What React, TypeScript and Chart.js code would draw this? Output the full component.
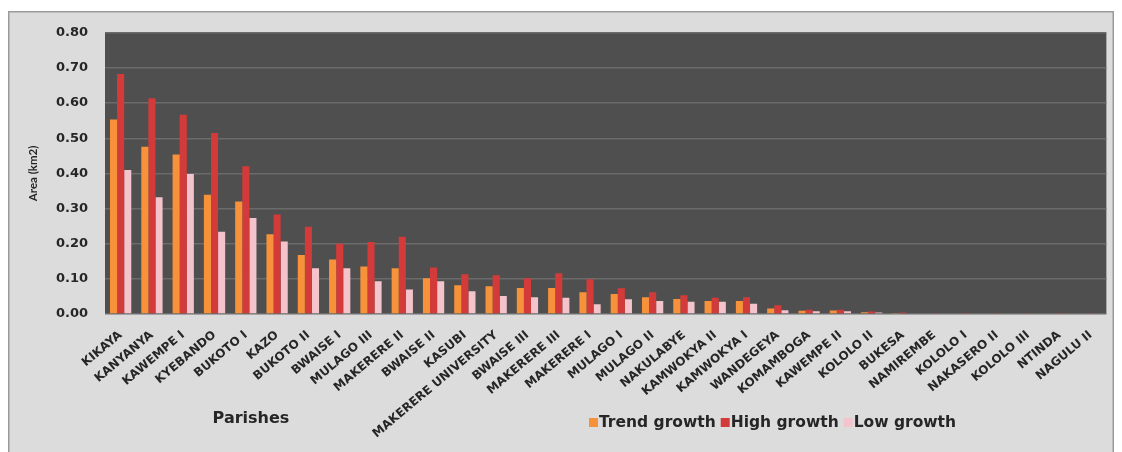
import React, { useEffect, useRef } from "react";
import { Chart, registerables } from "chart.js";

Chart.register(...registerables);

const parishes = [
  "KIKAYA", "KANYANYA", "KAWEMPE I", "KYEBANDO", "BUKOTO I", "KAZO", "BUKOTO II", "BWAISE I",
  "MULAGO III", "MAKERERE II", "BWAISE II", "KASUBI", "MAKERERE UNIVERSITY", "BWAISE III",
  "MAKERERE III", "MAKERERE I", "MULAGO I", "MULAGO II", "NAKULABYE", "KAMWOKYA II", "KAMWOKYA I",
  "WANDEGEYA", "KOMAMBOGA", "KAWEMPE II", "KOLOLO II", "BUKESA", "NAMIREMBE", "KOLOLO I",
  "NAKASERO II", "KOLOLO III", "NTINDA", "NAGULU II",
];

const trendGrowth = [
  0.553, 0.476, 0.454, 0.339, 0.32, 0.227, 0.168, 0.155, 0.135, 0.13, 0.102, 0.082, 0.079, 0.074,
  0.074, 0.062, 0.057, 0.048, 0.043, 0.037, 0.037, 0.016, 0.009, 0.01, 0.005, 0.003, 0.002, 0.002,
  0.002, 0.002, 0.002, 0.002,
];

const highGrowth = [
  0.683, 0.614, 0.567, 0.515, 0.42, 0.283, 0.248, 0.2, 0.205, 0.22, 0.132, 0.113, 0.11, 0.102,
  0.116, 0.099, 0.073, 0.062, 0.053, 0.046, 0.048, 0.025, 0.012, 0.012, 0.007, 0.004, 0.003, 0.003,
  0.003, 0.003, 0.003, 0.003,
];

const lowGrowth = [
  0.41, 0.332, 0.398, 0.234, 0.273, 0.206, 0.13, 0.13, 0.093, 0.07, 0.093, 0.065, 0.051, 0.048,
  0.046, 0.028, 0.042, 0.037, 0.035, 0.035, 0.029, 0.011, 0.008, 0.008, 0.004, 0.002, 0.002, 0.002,
  0.002, 0.002, 0.002, 0.002,
];

const seriesNames = ["Trend growth", "High growth", "Low growth"];
const seriesColors = ["#f7923a", "#d33b3a", "#f3c4cc"];
const yTicks = [0, 0.1, 0.2, 0.3, 0.4, 0.5, 0.6, 0.7, 0.8];

const decorPlugin = {
  id: "decor",
  beforeDraw(chart: any) {
    const { ctx, width, height, chartArea } = chart;
    ctx.save();
    ctx.fillStyle = "#ffffff";
    ctx.fillRect(0, 0, width, height);
    ctx.fillStyle = "#dcdcdc";
    ctx.fillRect(0, 3, width, height - 3);
    ctx.strokeStyle = "#9a9a9a";
    ctx.lineWidth = 1.5;
    ctx.strokeRect(0.75, 3.75, width - 1.5, height + 4);
    ctx.fillStyle = "#4f4f4f";
    ctx.fillRect(chartArea.left, chartArea.top, chartArea.right - chartArea.left, chartArea.bottom - chartArea.top);
    ctx.restore();
  },
  afterDraw(chart: any) {
    const { ctx } = chart;
    ctx.save();
    ctx.fillStyle = "#262626";
    ctx.font = "bold 16px 'DejaVu Sans'";
    ctx.textAlign = "center";
    ctx.textBaseline = "middle";
    ctx.fillText("Parishes", 243, 411);

    ctx.font = "bold 15.5px 'DejaVu Sans'";
    ctx.textAlign = "left";
    let x = 581;
    const yc = 415;
    seriesNames.forEach((name, i) => {
      ctx.fillStyle = seriesColors[i];
      ctx.fillRect(x, yc - 5, 9, 9);
      x += 10;
      ctx.fillStyle = "#262626";
      ctx.fillText(name, x, yc);
      x += ctx.measureText(name).width + 5;
    });
    ctx.restore();
  },
};

function App() {
  const canvasRef = useRef<HTMLCanvasElement | null>(null);

  useEffect(() => {
    if (!canvasRef.current) return;
    const data = {
      labels: parishes,
      datasets: [trendGrowth, highGrowth, lowGrowth].map((values, i) => ({
        label: seriesNames[i],
        data: values,
        backgroundColor: seriesColors[i],
        borderWidth: 0,
        categoryPercentage: 0.68,
        barPercentage: 1.0,
      })),
    };
    const chart = new Chart(canvasRef.current, {
      type: "bar",
      data,
      plugins: [decorPlugin],
      options: {
        animation: false,
        responsive: true,
        maintainAspectRatio: false,
        layout: { padding: { top: 22, right: 2, left: 0, bottom: 0 } },
        plugins: {
          legend: { display: false },
          tooltip: { enabled: false },
        },
        scales: {
          x: {
            grid: { display: false, drawTicks: false },
            border: { display: false },
            ticks: {
              autoSkip: false,
              minRotation: 40,
              maxRotation: 40,
              padding: 14,
              color: "#262626",
              font: { family: "'DejaVu Sans'", weight: "bold", size: 12 },
            },
            afterFit(scale: any) {
              scale.height = 138;
            },
          },
          y: {
            min: 0,
            max: 0.8,
            afterBuildTicks(scale: any) {
              scale.ticks = yTicks.map((v) => ({ value: v }));
            },
            grid: { color: "#6b6b6b", lineWidth: 1.5, drawTicks: false },
            border: { display: false },
            ticks: {
              padding: 17,
              color: "#262626",
              font: { family: "'DejaVu Sans'", weight: "bold", size: 13 },
              callback: (v: any) => Number(v).toFixed(2),
            },
            title: {
              display: true,
              text: "Area (km2)",
              color: "#262626",
              font: { family: "Lato", weight: "bold", size: 11.5 },
              padding: { top: 18, bottom: 0 },
            },
            afterFit(scale: any) {
              scale.width = 97;
            },
          },
        },
      },
    });
    return () => chart.destroy();
  }, []);

  return (
    <div style={{ width: "1106px", height: "444px", position: "relative" }}>
      <style>{"html,body{overflow:hidden}"}</style>
      <canvas ref={canvasRef} />
    </div>
  );
}

export default App;
